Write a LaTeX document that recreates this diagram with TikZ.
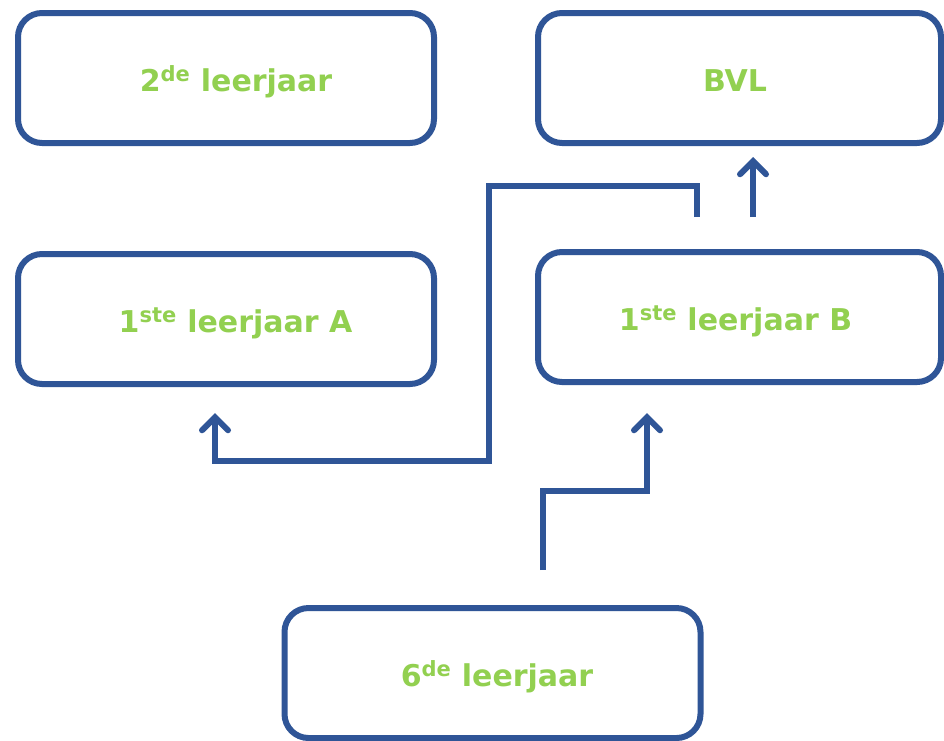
\documentclass[tikz,border=0pt]{standalone}
\usepackage{fontspec}
\setmainfont{DejaVu Sans}
\usetikzlibrary{arrows.meta}
\definecolor{boxblue}{HTML}{2F5597}
\definecolor{txtgreen}{HTML}{92D050}
\begin{document}
\begin{tikzpicture}[x=1pt,y=-1pt,
  box/.style={draw=boxblue, line width=6pt, rounded corners=24pt, fill=white,
    minimum width=416pt, minimum height=130pt, inner sep=0pt,
    text height=26pt, text depth=0pt,
    font=\fontsize{30}{36}\selectfont\bfseries, text=txtgreen},
  rbox/.style={box, minimum width=403pt},
  conn/.style={draw=boxblue, line width=6pt},
  arr/.style={conn, -{Straight Barb[length=13pt, width=26pt, line cap=round, line width=6pt]}}]
\useasboundingbox (0,0) rectangle (944,740);
\node[box] (twee) at (226,78) {\hspace*{20pt}2\textsuperscript{de} leerjaar};
\node[rbox] (bvl) at (739.5,78) {BVL\hspace*{9pt}};
\node[box] (eenA) at (226,319) {\hspace*{19pt}1\textsuperscript{ste} leerjaar A};
\node[rbox] (eenB) at (739.5,317) {1\textsuperscript{ste} leerjaar B\hspace*{8pt}};
\node[box] (zes) at (492.5,673) {\hspace*{9pt}6\textsuperscript{de} leerjaar};
\coordinate (a1s) at (753,217);
\coordinate (a1e) at (753,157);
\coordinate (a2s) at (697,217);
\coordinate (a2e) at (215,413);
\coordinate (a3s) at (543,570);
\coordinate (a3e) at (647,413);
\draw[arr] (a1s) -- (a1e);
\draw[arr] (a2s) -- (697,186) -- (489,186) -- (489,461) -- (215,461) -- (a2e);
\draw[arr] (a3s) -- (543,491) -- (647,491) -- (a3e);
\end{tikzpicture}
\end{document}
